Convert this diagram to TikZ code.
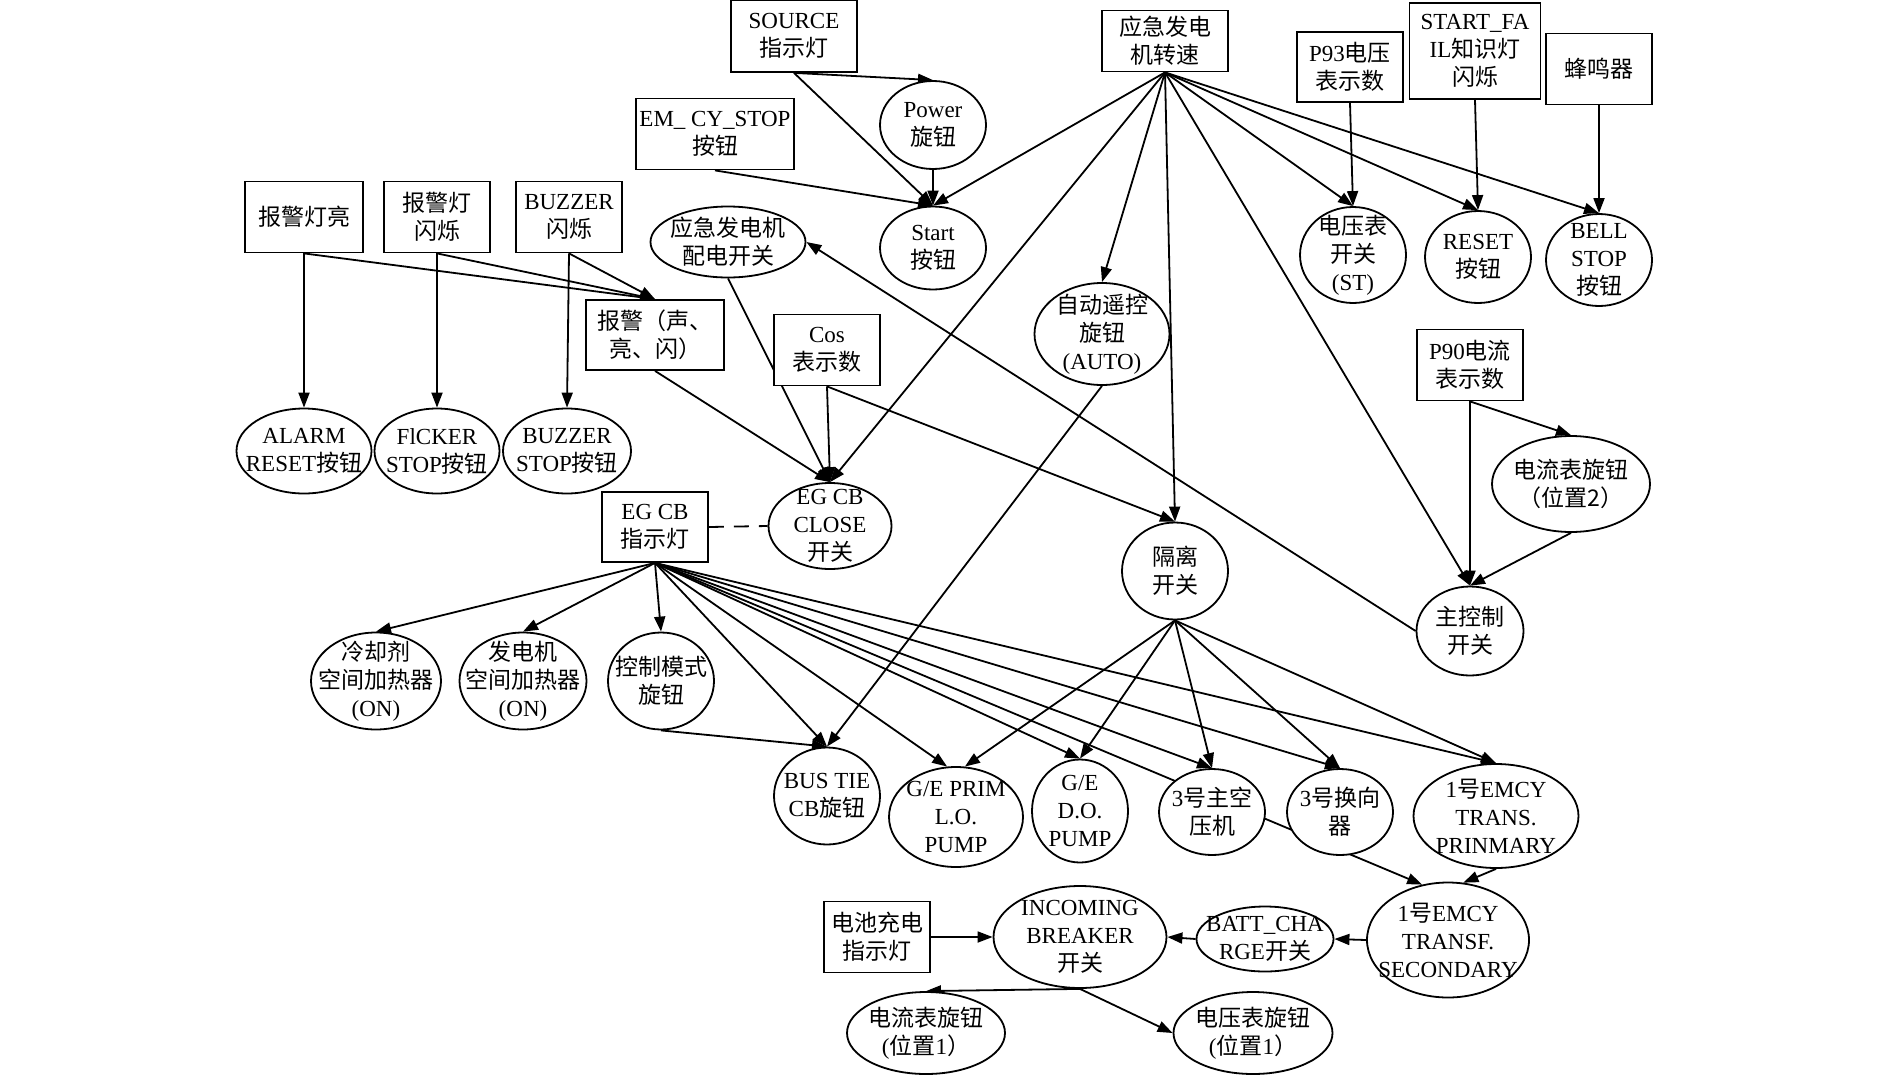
\documentclass[tikz,border=0pt]{standalone}
\usepackage{fontspec}
\setmainfont{Liberation Serif}
\newfontfamily\zhfont{Noto Sans CJK SC}
\newcommand\zh[1]{{\zhfont #1}}
\usetikzlibrary{shapes.geometric,arrows.meta,backgrounds}
\begin{document}
\begin{tikzpicture}[
x=1pt,y=-1pt,
font=\fontsize{23}{28}\selectfont,
bx/.style = {draw,rectangle,fill=white,inner sep=0pt,align=center,line width=1.8pt},
nd/.style = {draw,ellipse,fill=white,inner xsep=-30pt,inner ysep=-22pt,align=center,line width=1.8pt},
edge/.style = {line width=1.8pt,-{Triangle[length=15pt,width=11pt]}},
dashln/.style = {line width=1.8pt,dash pattern=on 15pt off 10pt}
]
  \useasboundingbox (0,0) rectangle (1890,1074);

  \node[bx,minimum width=126pt,minimum height=72pt] (src) at (794,36) {SOURCE\\\zh{指示灯}};
  \node[bx,minimum width=126pt,minimum height=61pt] (zs) at (1165,41) {\zh{应急发电}\\\zh{机转速}};
  \node[bx,minimum width=158pt,minimum height=71pt] (emcy) at (715,134) {EM\_ CY\_STOP\\\zh{按钮}};
  \node[bx,minimum width=106pt,minimum height=70pt] (p93) at (1350,67) {P93\zh{电压}\\\zh{表示数}};
  \node[bx,minimum width=131pt,minimum height=96pt] (sf) at (1475,51) {START\_FA\\IL\zh{知识灯}\\\zh{闪烁}};
  \node[bx,minimum width=106pt,minimum height=71pt] (fmq) at (1599,69) {\zh{蜂鸣器}};
  \node[bx,minimum width=118pt,minimum height=71pt] (bjdl) at (304,217) {\zh{报警灯亮}};
  \node[bx,minimum width=106pt,minimum height=71pt] (bjds) at (437,217) {\zh{报警灯}\\\zh{闪烁}};
  \node[bx,minimum width=106pt,minimum height=71pt] (bzs) at (569,217) {BUZZER\\\zh{闪烁}};
  \node[bx,minimum width=138pt,minimum height=70pt] (bj) at (655,335) {\zh{报警（声、}\\\zh{亮、闪）}};
  \node[bx,minimum width=106pt,minimum height=71pt] (cos) at (827,350) {Cos\\\zh{表示数}};
  \node[bx,minimum width=106pt,minimum height=70pt] (egcb) at (655,527) {EG CB\\\zh{指示灯}};
  \node[bx,minimum width=106pt,minimum height=71pt] (p90) at (1470,365) {P90\zh{电流}\\\zh{表示数}};
  \node[bx,minimum width=106pt,minimum height=71pt] (dc) at (877,937) {\zh{电池充电}\\\zh{指示灯}};

  \node[nd,minimum width=106pt,minimum height=88pt] (power) at (933,125) {Power\\\zh{旋钮}};
  \node[nd,minimum width=106pt,minimum height=83pt] (start) at (933,248) {Start\\\zh{按钮}};
  \node[nd,minimum width=155pt,minimum height=71pt] (pd) at (728,242) {\zh{应急发电机}\\\zh{配电开关}};
  \node[nd,minimum width=135pt,minimum height=102pt] (auto) at (1102,334) {\zh{自动遥控}\\\zh{旋钮}\\(AUTO)};
  \node[nd,minimum width=106pt,minimum height=96pt] (dyk) at (1353,255) {\zh{电压表}\\\zh{开关}\\(ST)};
  \node[nd,minimum width=106pt,minimum height=92pt] (reset) at (1478,257) {RESET\\\zh{按钮}};
  \node[nd,minimum width=106pt,minimum height=92pt] (bell) at (1599,260) {BELL\\STOP\\\zh{按钮}};
  \node[nd,minimum width=135pt,minimum height=85pt] (ar) at (304,451) {ALARM\\RESET\zh{按钮}};
  \node[nd,minimum width=125pt,minimum height=85pt] (fs) at (437,451) {FlCKER\\STOP\zh{按钮}};
  \node[nd,minimum width=128pt,minimum height=85pt] (bs) at (567,451) {BUZZER\\STOP\zh{按钮}};
  \node[nd,minimum width=123pt,minimum height=86pt] (close) at (830,526) {EG CB\\CLOSE\\\zh{开关}};
  \node[nd,minimum width=106pt,minimum height=97pt] (gl) at (1175,571) {\zh{隔离}\\\zh{开关}};
  \node[nd,minimum width=158pt,minimum height=96pt] (dlb2) at (1571,484) {\zh{电流表旋钮}\\\zh{（位置2）}};
  \node[nd,minimum width=107pt,minimum height=89pt] (zkz) at (1470,631) {\zh{主控制}\\\zh{开关}};
  \node[nd,minimum width=130pt,minimum height=97pt] (ljj) at (376,681) {\zh{冷却剂}\\\zh{空间加热器}\\(ON)};
  \node[nd,minimum width=127pt,minimum height=97pt] (fdj) at (523,681) {\zh{发电机}\\\zh{空间加热器}\\(ON)};
  \node[nd,minimum width=106pt,minimum height=97pt] (kzms) at (661,681) {\zh{控制模式}\\\zh{旋钮}};
  \node[nd,minimum width=106pt,minimum height=97pt] (bus) at (827,796) {BUS TIE\\CB\zh{旋钮}};
  \node[nd,minimum width=134pt,minimum height=100pt] (gep) at (956,817) {G/E PRIM\\L.O.\\PUMP};
  \node[nd,minimum width=96pt,minimum height=103pt] (ged) at (1080,811) {G/E\\D.O.\\PUMP};
  \node[nd,minimum width=106pt,minimum height=86pt] (kyj) at (1212,812) {3\zh{号主空}\\\zh{压机}};
  \node[nd,minimum width=106pt,minimum height=86pt] (hxq) at (1340,812) {3\zh{号换向}\\\zh{器}};
  \node[nd,minimum width=165pt,minimum height=104pt] (prim) at (1496,816) {1\zh{号}EMCY\\TRANS.\\PRINMARY};
  \node[nd,minimum width=162pt,minimum height=115pt] (sec) at (1448,940) {1\zh{号}EMCY\\TRANSF.\\SECONDARY};
  \node[nd,minimum width=137pt,minimum height=65pt] (batt) at (1265,939) {BATT\_CHA\\RGE\zh{开关}};
  \node[nd,minimum width=173pt,minimum height=102pt] (inc) at (1080,937) {INCOMING\\BREAKER\\\zh{开关}};
  \node[nd,minimum width=158pt,minimum height=82pt] (dlb1) at (926,1033) {\zh{电流表旋钮}\\(\zh{位置}1\zh{）}};
  \node[nd,minimum width=159pt,minimum height=82pt] (dyb1) at (1253,1033) {\zh{电压表旋钮}\\(\zh{位置}1\zh{）}};

  \begin{scope}[on background layer]
  \draw[edge] (src.south) -- (power.north);
  \draw[edge] (src.south) -- (start.north);
  \draw[edge] (power.south) -- (start.north);
  \draw[edge] (emcy.south) -- (start.north);
  \draw[edge] (zs.south) -- (start.north);
  \draw[edge] (zs.south) -- (close.north);
  \draw[edge] (zs.south) -- (auto.north);
  \draw[edge] (zs.south) -- (gl.north);
  \draw[edge] (zs.south) -- (zkz.north);
  \draw[edge] (zs.south) -- (dyk.north);
  \draw[edge] (zs.south) -- (reset.north);
  \draw[edge] (zs.south) -- (bell.north);
  \draw[edge] (p93.south) -- (dyk.north);
  \draw[edge] (sf.south) -- (reset.north);
  \draw[edge] (fmq.south) -- (bell.north);
  \draw[edge] (p90.south) -- (zkz.north);
  \draw[edge] (p90.south) -- (dlb2.north);
  \draw[edge] (dlb2.south) -- (zkz.north);
  \draw[edge] (zkz.west) -- (pd.east);
  \draw[edge] (pd.south) -- (close.north);
  \draw[edge] (cos.south) -- (close.north);
  \draw[edge] (cos.south) -- (gl.north);
  \draw[edge] (bj.south) -- (close.north);
  \draw[edge] (bjdl.south) -- (ar.north);
  \draw[edge] (bjdl.south) -- (bj.north);
  \draw[edge] (bjds.south) -- (fs.north);
  \draw[edge] (bjds.south) -- (bj.north);
  \draw[edge] (bzs.south) -- (bs.north);
  \draw[edge] (bzs.south) -- (bj.north);
  \draw[dashln] (egcb.east) -- (close.west);
  \draw[edge] (egcb.south) -- (ljj.north);
  \draw[edge] (egcb.south) -- (fdj.north);
  \draw[edge] (egcb.south) -- (kzms.north);
  \draw[edge] (egcb.south) -- (bus.north);
  \draw[edge] (egcb.south) -- (gep.100);
  \draw[edge] (egcb.south) -- (ged.north);
  \draw[edge] (egcb.south) -- (kyj.north);
  \draw[edge] (egcb.south) -- (hxq.north);
  \draw[edge] (egcb.south) -- (prim.north);
  \draw[edge] (egcb.south) -- (sec.115);
  \draw[edge] (kzms.south) -- (bus.north);
  \draw[edge] (auto.south) -- (bus.north);
  \draw[edge] (gl.south) -- (gep.80);
  \draw[edge] (gl.south) -- (ged.north);
  \draw[edge] (gl.south) -- (kyj.north);
  \draw[edge] (gl.south) -- (hxq.north);
  \draw[edge] (gl.south) -- (prim.north);
  \draw[edge] (prim.south) -- (sec.75);
  \draw[edge] (sec.west) -- (batt.east);
  \draw[edge] (batt.west) -- (inc.east);
  \draw[edge] (dc.east) -- (inc.west);
  \draw[edge] (inc.south) -- (dlb1.north);
  \draw[edge] (inc.south) -- (dyb1.west);
  \end{scope}
\end{tikzpicture}
\end{document}
